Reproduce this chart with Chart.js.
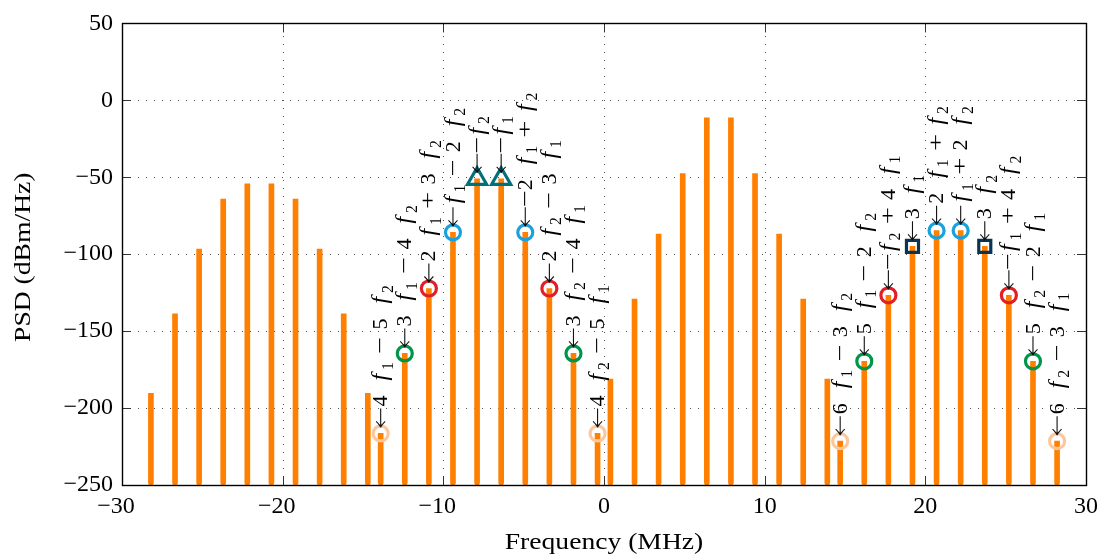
<!DOCTYPE html>
<html><head><meta charset="utf-8">
<script src="https://cdn.jsdelivr.net/npm/chart.js@4.4.1/dist/chart.umd.min.js"></script>
<style>html,body{margin:0;padding:0;background:#fff;}#wrap{width:1105px;height:557px;position:relative;}</style>
</head><body><div id="wrap"><canvas id="c" width="1105" height="557"></canvas></div>
<script>
// ---------- data ----------
const toneFreq = [-28.2,-26.7,-25.2,-23.7,-22.2,-20.7,-19.2,-17.7,-16.2,-14.7, 0.4,1.9,3.4,4.9,6.4,7.9,9.4,10.9,12.4,13.9];
const tonePSD  = [-190.5,-138.7,-96.6,-64.2,-54.2,-54.2,-64.2,-96.6,-138.7,-190.5, -181.2,-129.2,-86.9,-47.6,-11.3,-11.3,-47.6,-86.9,-129.2,-181.2];
const imFreq   = [-13.9,-12.4,-10.9,-9.4,-7.9,-6.4,-4.9,-3.4,-1.9,-0.4, 14.7,16.2,17.7,19.2,20.7,22.2,23.7,25.2,26.7,28.2];
const imPSD    = [-216.5,-164.5,-122.3,-85.8,-51,-51,-85.8,-122.3,-164.5,-216.5, -221.5,-169.6,-126.7,-94.9,-84.7,-84.7,-94.9,-126.7,-169.6,-221.5];
const imKind   = ['peach','green','red','blue','tri','tri','blue','red','green','peach',
                  'peach','green','red','sq','blue','blue','sq','red','green','peach'];
const imLabel  = ['4 f_1 − 5 f_2','3 f_1 − 4 f_2','2 f_1 + 3 f_2','f_1 − 2 f_2','−f_2','−f_1','−2 f_1 + f_2','2 f_2 − 3 f_1','3 f_2 − 4 f_1','4 f_2 − 5 f_1',
                  '6 f_1 − 3 f_2','5 f_1 − 2 f_2','−f_2 + 4 f_1','3 f_1','2 f_1 + f_2','f_1 + 2 f_2','3 f_2','−f_1 + 4 f_2','5 f_2 − 2 f_1','6 f_2 − 3 f_1'];
const xTicks = [-30,-20,-10,0,10,20,30];
const yTicks = [-250,-200,-150,-100,-50,0,50];
const xTitle = 'Frequency (MHz)';
const yTitle = 'PSD (dBm/Hz)';

// ---------- styles ----------
const FONT = '"Liberation Serif", "Times New Roman", serif';
const kindStyle = {
  peach:{color:'#fec79b', style:'circle',   r:7.5},
  green:{color:'#00954a', style:'circle',   r:7.5},
  red:  {color:'#e21f27', style:'circle',   r:7.5},
  blue: {color:'#19a0de', style:'circle',   r:7.5},
  tri:  {color:'#00707a', style:'triangle', r:11},
  sq:   {color:'#0b3452', style:'rect',     r:8.5}
};

const stemData = toneFreq.map((f,i)=>({x:f, y:[-250, tonePSD[i]]}))
  .concat(imFreq.map((f,i)=>({x:f, y:[-250, imPSD[i]]})));

const markerSets = Object.keys(kindStyle).map(k=>{
  const s = kindStyle[k];
  const data = [];
  imFreq.forEach((f,i)=>{ if(imKind[i]===k) data.push({x:f, y:imPSD[i]}); });
  return {type:'scatter', data, order:1, pointStyle:s.style, pointRadius:s.r, pointHoverRadius:s.r,
          borderColor:s.color, backgroundColor:'rgba(0,0,0,0)', pointBorderWidth:3.2, borderWidth:3.2};
});

function fmt(v){ return v<0 ? '\u2212'+Math.abs(v) : String(v); }

const OPS = '−+';
function drawMath(ctx, str, fs){
  let x = 0;
  for(let i=0;i<str.length;i++){
    const c = str[i];
    if(c===' '){
      const nearOp = OPS.includes(str[i-1]) || OPS.includes(str[i+1]);
      x += fs*(nearOp ? 0.33 : 0.58);
      continue;
    }
    if(c==='_'){
      const s = str[++i];
      ctx.font = (fs*0.72).toFixed(1)+'px '+FONT;
      ctx.fillText(s, x, fs*0.24);
      x += ctx.measureText(s).width + fs*0.04;
      continue;
    }
    if(c==='f'){
      ctx.font = 'italic '+(fs*1.08).toFixed(1)+'px '+FONT;
      ctx.fillText('f', x+fs*0.1, 0);
      x += fs*0.58;
      continue;
    }
    ctx.font = fs+'px '+FONT;
    if(OPS.includes(c)){
      const w = ctx.measureText(c).width;
      ctx.save(); ctx.translate(x,0); ctx.scale(1.38,1); ctx.fillText(c,0,0); ctx.restore();
      x += w*1.38;
      continue;
    }
    ctx.fillText(c, x, 0);
    x += ctx.measureText(c).width;
  }
}

const deco = {
  id:'deco',
  beforeDatasetsDraw(chart){
    const {ctx, chartArea:a, scales:{x,y}} = chart;
    ctx.save();
    ctx.strokeStyle='#555'; ctx.lineWidth=1; ctx.setLineDash([1,7]);
    xTicks.slice(1,-1).forEach(v=>{
      const px = Math.round(x.getPixelForValue(v))+0.5;
      ctx.beginPath(); ctx.moveTo(px,a.bottom); ctx.lineTo(px,a.top); ctx.stroke();
    });
    yTicks.slice(1,-1).forEach(v=>{
      const py = Math.round(y.getPixelForValue(v))+0.5;
      ctx.beginPath(); ctx.moveTo(a.left,py); ctx.lineTo(a.right,py); ctx.stroke();
    });
    ctx.restore();
  },
  afterDatasetsDraw(chart){
    const {ctx, chartArea:a, scales:{x,y}} = chart;
    ctx.save();
    // ticks inside
    ctx.strokeStyle='#333'; ctx.lineWidth=1; const TL=9;
    xTicks.forEach(v=>{
      const px = Math.round(x.getPixelForValue(v))+0.5;
      ctx.beginPath(); ctx.moveTo(px,a.bottom); ctx.lineTo(px,a.bottom-TL);
      ctx.moveTo(px,a.top); ctx.lineTo(px,a.top+TL); ctx.stroke();
    });
    yTicks.forEach(v=>{
      const py = Math.round(y.getPixelForValue(v))+0.5;
      ctx.beginPath(); ctx.moveTo(a.left,py); ctx.lineTo(a.left+TL,py);
      ctx.moveTo(a.right,py); ctx.lineTo(a.right-TL,py); ctx.stroke();
    });
    // frame
    ctx.strokeStyle='#000'; ctx.lineWidth=1.4;
    ctx.strokeRect(Math.round(a.left)+0.5, Math.round(a.top)+0.5, Math.round(a.right-a.left), Math.round(a.bottom-a.top));
    // annotation labels
    const fs = 22;
    ctx.fillStyle='#000'; ctx.strokeStyle='#111'; ctx.lineWidth=1.1;
    imFreq.forEach((f,i)=>{
      const px = x.getPixelForValue(f), py = y.getPixelForValue(imPSD[i]);
      ctx.save();
      ctx.translate(px, py);
      ctx.rotate(-Math.PI/2);
      const t0 = 6, L = 19;
      ctx.beginPath();
      ctx.moveTo(t0,0); ctx.lineTo(t0+L,0);
      ctx.moveTo(t0+6,-4.5); ctx.quadraticCurveTo(t0+2,-0.5,t0,0);
      ctx.moveTo(t0+6,4.5); ctx.quadraticCurveTo(t0+2,0.5,t0,0);
      ctx.stroke();
      const lead = imLabel[i][0]==='−' ? 0 : 2;
      ctx.translate(t0+L+lead, fs*0.3);
      ctx.textBaseline='alphabetic'; ctx.textAlign='left';
      drawMath(ctx, imLabel[i], fs);
      ctx.restore();
    });
    // axis titles
    ctx.fillStyle='#000'; ctx.textAlign='center'; ctx.textBaseline='middle';
    ctx.font = '24px '+FONT;
    ctx.save(); ctx.translate((a.left+a.right)/2, 543); ctx.scale(1.15,1); ctx.fillText(xTitle,0,0); ctx.restore();
    ctx.save(); ctx.translate(24, (a.top+a.bottom)/2+3); ctx.rotate(-Math.PI/2); ctx.scale(1.15,1); ctx.fillText(yTitle,0,0); ctx.restore();
    ctx.restore();
  }
};

new Chart(document.getElementById('c'), {
  type:'bar',
  data:{datasets: markerSets.concat([{
    type:'bar', data:stemData, order:2, backgroundColor:'#ff7f00', borderWidth:0,
    barThickness:5, borderRadius:2.5, borderSkipped:'start', grouped:false
  }])},
  options:{
    responsive:false, animation:false, events:[],
    layout:{padding:{top:22, right:16, left:0, bottom:0}},
    plugins:{legend:{display:false}, tooltip:{enabled:false}},
    scales:{
      x:{type:'linear', min:xTicks[0], max:xTicks[xTicks.length-1], offset:false,
         grid:{display:false, drawTicks:false}, border:{display:false},
         afterBuildTicks(s){ s.ticks = xTicks.map(v=>({value:v})); },
         ticks:{autoSkip:false, maxRotation:0, padding:7, color:'#000', font:{family:FONT, size:24},
                callback:v=> fmt(v) + (v<0 ? '\u2002' : '')},
         afterFit(s){ s.height = 72; }},
      y:{type:'linear', min:yTicks[0], max:yTicks[yTicks.length-1],
         grid:{display:false, drawTicks:false}, border:{display:false},
         afterBuildTicks(s){ s.ticks = yTicks.map(v=>({value:v})); },
         ticks:{autoSkip:false, padding:9, color:'#000', font:{family:FONT, size:24},
                callback:v=> fmt(v)},
         afterFit(s){ s.width = 122; }}
    }
  },
  plugins:[deco]
});
</script></body></html>
